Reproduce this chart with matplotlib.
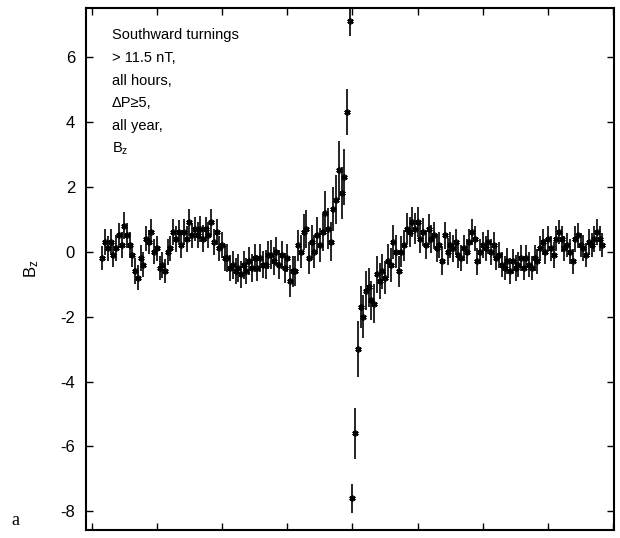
import numpy as np
import matplotlib
matplotlib.use("Agg")
import matplotlib.pyplot as plt

plt.rcParams['font.family'] = ['Liberation Sans', 'DejaVu Sans']
plt.rcParams['mathtext.fontset'] = 'custom'
plt.rcParams['mathtext.rm'] = 'Liberation Sans'
plt.rcParams['mathtext.it'] = 'Liberation Sans'

# epoch time (minutes), step 2.5 min, -230 .. 230
t0 = -230.0
dt = 2.5

# Bz average (nT)
bz = [
    -0.2, 0.3, 0.1, 0.3, -0.1, 0.1, 0.5, 0.2, 0.8, 0.5, 0.2, -0.1,
    -0.6, -0.8, -0.2, -0.4, 0.4, 0.3, 0.6, 0.0, 0.1, -0.5, -0.4, -0.6,
    0.0, 0.1, 0.6, 0.4, 0.6, 0.2, 0.6, 0.4, 0.9, 0.5, 0.7, 0.5,
    0.7, 0.4, 0.7, 0.5, 0.9, 0.3, 0.6, 0.1, 0.2, -0.2, -0.2, -0.5,
    -0.4, -0.6, -0.5, -0.7, -0.4, -0.6, -0.3, -0.5, -0.2, -0.5, -0.2, -0.4,
    -0.4, -0.1, -0.1, -0.3, 0.0, -0.4, -0.1, -0.5, -0.2, -0.9, -0.6, -0.6,
    0.2, 0.0, 0.6, 0.7, -0.2, 0.3, 0.0, 0.5, 0.2, 0.6, 1.2, 0.7,
    0.3, 1.3, 1.6, 2.5, 1.8, 2.3, 4.3, 7.1, -7.6, -5.6, -3.0, -1.7,
    -2.0, -1.2, -1.1, -1.5, -1.6, -0.7, -0.9, -0.6, -0.8, -0.3, -0.4, 0.3,
    0.0, -0.6, 0.0, 0.2, 0.7, 0.6, 0.9, 0.7, 0.9, 0.4, 0.6, 0.2,
    0.7, 0.4, 0.5, 0.1, 0.2, -0.3, 0.5, 0.0, 0.2, 0.1, 0.3, -0.1,
    -0.2, 0.1, 0.0, 0.3, 0.6, 0.4, -0.3, 0.0, 0.2, 0.1, 0.3, 0.0,
    0.2, -0.2, -0.1, -0.4, -0.5, -0.3, -0.6, -0.3, -0.5, -0.4, -0.2, -0.5,
    -0.2, -0.4, -0.5, -0.2, -0.3, 0.1, 0.3, 0.0, 0.4, 0.1, -0.1, 0.4,
    0.6, 0.4, 0.1, 0.2, 0.0, -0.3, 0.4, 0.5, 0.2, 0.1, -0.1, 0.3,
    0.2, 0.4, 0.6, 0.4, 0.2,
]

# standard error of the mean (nT)
err = [
    0.38, 0.40, 0.38, 0.41, 0.38, 0.40, 0.38, 0.39, 0.41, 0.38, 0.40, 0.38,
    0.39, 0.38, 0.40, 0.38, 0.39, 0.38, 0.40, 0.38, 0.39, 0.38, 0.40, 0.38,
    0.40, 0.39, 0.41, 0.40, 0.38, 0.41, 0.39, 0.40, 0.42, 0.39, 0.38, 0.40,
    0.39, 0.41, 0.38, 0.40, 0.41, 0.39, 0.40, 0.38, 0.41, 0.40, 0.42, 0.41,
    0.43, 0.41, 0.44, 0.42, 0.43, 0.41, 0.43, 0.42, 0.44, 0.41, 0.43, 0.42,
    0.44, 0.43, 0.45, 0.43, 0.44, 0.45, 0.43, 0.46, 0.44, 0.50, 0.48, 0.46,
    0.48, 0.50, 0.55, 0.58, 0.50, 0.53, 0.51, 0.56, 0.53, 0.58, 0.68, 0.63,
    0.60, 0.68, 0.75, 0.90, 0.80, 0.85, 0.70, 0.45, 0.45, 0.80, 0.85, 0.65,
    0.65, 0.60, 0.60, 0.60, 0.60, 0.56, 0.56, 0.54, 0.52, 0.52, 0.52, 0.52,
    0.50, 0.48, 0.48, 0.48, 0.48, 0.46, 0.46, 0.48, 0.46, 0.44, 0.44, 0.43,
    0.45, 0.43, 0.42, 0.43, 0.41, 0.43, 0.42, 0.41, 0.40, 0.42, 0.41, 0.40,
    0.41, 0.40, 0.39, 0.41, 0.40, 0.39, 0.41, 0.38, 0.40, 0.39, 0.38, 0.40,
    0.39, 0.38, 0.40, 0.39, 0.38, 0.40, 0.39, 0.38, 0.40, 0.38, 0.39, 0.38,
    0.40, 0.39, 0.38, 0.40, 0.39, 0.38, 0.40, 0.38, 0.39, 0.38, 0.40, 0.39,
    0.38, 0.40, 0.39, 0.38, 0.39, 0.38, 0.40, 0.39, 0.38, 0.40, 0.38, 0.39,
    0.38, 0.40, 0.39, 0.38, 0.38,
]

t = t0 + dt * np.arange(len(bz))

legend_lines = ["Southward turnings", "> 11.5 nT,", "all hours,",
                "\u0394P\u22655,", "all year,", "B$_\\mathrm{z}$"]

fig = plt.figure(figsize=(6.2, 5.38), dpi=100)
ax = fig.add_axes([0.139, 0.015, 0.852, 0.970])

ax.errorbar(t, bz, yerr=err, fmt='none', ecolor='black', elinewidth=1.2)
ax.plot(t, bz, linestyle='none', marker=(6, 2, 0), markersize=4.5,
        color='black', markeredgewidth=1.2)

ax.set_xlim(-245, 241)
ax.set_ylim(-8.57, 7.5)
ax.set_xticks(np.arange(-240, 241, 60))
ax.set_xticklabels([])
ax.set_yticks(np.arange(-8, 7, 2))
ax.set_yticklabels([str(v) for v in range(-8, 7, 2)])
ax.tick_params(direction='in', top=True, right=True, length=5,
               width=1.0, labelsize=12, pad=8)
ax.tick_params(axis='y', labelright=False)
for s in ax.spines.values():
    s.set_linewidth(1.5)

ax.set_ylabel("B$_\\mathrm{z}$", fontsize=12, labelpad=14)

for k, line in enumerate(legend_lines):
    ax.text(0.049, 0.948 - k * 0.0435, line, transform=ax.transAxes,
            fontsize=10.5, va='center', ha='left')

fig.text(0.018, 0.032, "a", family=['Liberation Serif', 'DejaVu Serif'],
         fontsize=13, va='center')

fig.savefig("out.png", dpi=100)
